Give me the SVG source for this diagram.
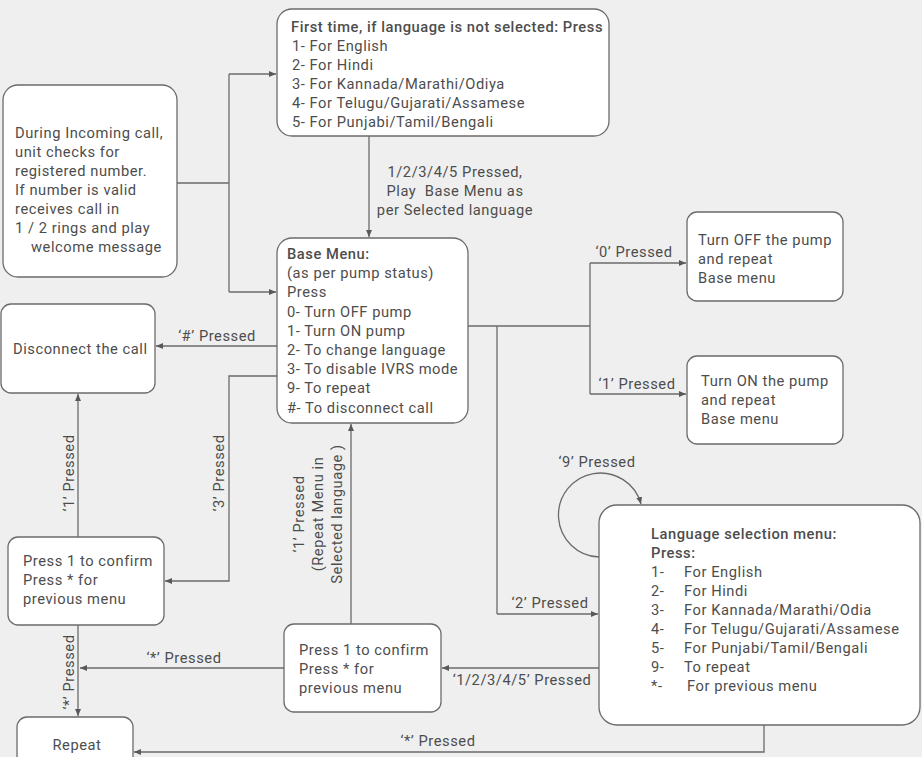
<svg xmlns="http://www.w3.org/2000/svg" width="922" height="757" viewBox="0 0 922 757">
<defs>
<marker id="ah" markerWidth="8" markerHeight="8" refX="7" refY="4" orient="auto" markerUnits="userSpaceOnUse">
<path d="M0,1 L7,4 L0,7 Z" fill="#595959"/>
</marker>
<style>
text{font-family:Roboto,"Liberation Sans",sans-serif;font-size:14.7px;letter-spacing:0.55px;fill:#4d4d4d}
.b{font-weight:500}
.m{text-anchor:middle}
.box{fill:#fff;stroke:#6b6b6b;stroke-width:1.3}
.c{fill:none;stroke:#6b6b6b;stroke-width:1.3}
.a{marker-end:url(#ah)}
</style>
</defs>
<rect width="922" height="757" fill="#efefef"/>
<g id="connectors">
<path class="c" d="M177,183 H229 M229,74 V292"/>
<path class="c a" d="M229,74 H276"/>
<path class="c a" d="M229,292 H276"/>
<path class="c a" d="M369,136 V237"/>
<path class="c" d="M468,326 H590 M590,263 V394 M497,326 V614"/>
<path class="c a" d="M590,263 H686"/>
<path class="c a" d="M590,394 H686"/>
<path class="c a" d="M497,614 H598"/>
<path class="c a" d="M277,346 H156"/>
<path class="c a" d="M277,376 H229 V581 H165"/>
<path class="c a" d="M78,537 V394"/>
<path class="c a" d="M78,625 V716"/>
<path class="c a" d="M284,668 H80"/>
<path class="c a" d="M351,624 V424"/>
<path class="c a" d="M599,668 H442"/>
<path class="c a" d="M764,725 V752 H134"/>
<path class="c a" d="M599,557 A42,42 0 1 1 641,504"/>
<text class="m" x="455" y="177">1/2/3/4/5 Pressed,</text>
<text class="m" x="455" y="196" style="white-space:pre">Play  Base Menu as</text>
<text class="m" x="455" y="215">per Selected language</text>
<text class="m" x="634" y="257">‘0’ Pressed</text>
<text class="m" x="637" y="389">‘1’ Pressed</text>
<text class="m" x="217" y="341">‘#’ Pressed</text>
<text class="m" x="550" y="608">‘2’ Pressed</text>
<text class="m" x="522" y="685">‘1/2/3/4/5’ Pressed</text>
<text class="m" x="184" y="663">‘*’ Pressed</text>
<text class="m" x="438" y="746">‘*’ Pressed</text>
<text class="m" x="597" y="467">‘9’ Pressed</text>
<text class="m" transform="translate(74,473) rotate(-90)">‘1’ Pressed</text>
<text class="m" transform="translate(224,473) rotate(-90)">‘3’ Pressed</text>
<text class="m" transform="translate(74,672) rotate(-90)">‘*’ Pressed</text>
<text class="m" transform="translate(304,514) rotate(-90)">‘1’ Pressed</text>
<text class="m" transform="translate(323,514) rotate(-90)">(Repeat Menu in</text>
<text class="m" transform="translate(342,514) rotate(-90)">Selected language )</text>
</g>
<g id="incoming">
<rect class="box" x="3" y="85" width="174" height="192" rx="15"/>
<text x="15" y="138">During Incoming call,</text>
<text x="15" y="157">unit checks for</text>
<text x="15" y="176">registered number.</text>
<text x="15" y="195">If number is valid</text>
<text x="15" y="214">receives call in</text>
<text x="15" y="233">1 / 2 rings and play</text>
<text x="31" y="252">welcome message</text>
</g>
<g id="first-time">
<rect class="box" x="277" y="9" width="332" height="127" rx="15"/>
<text class="b" x="291" y="32">First time, if language is not selected: Press</text>
<text x="292" y="51">1- For English</text>
<text x="292" y="70">2- For Hindi</text>
<text x="292" y="89">3- For Kannada/Marathi/Odiya</text>
<text x="292" y="108">4- For Telugu/Gujarati/Assamese</text>
<text x="292" y="127">5- For Punjabi/Tamil/Bengali</text>
</g>
<g id="base-menu">
<rect class="box" x="277" y="238" width="191" height="185" rx="15"/>
<text class="b" x="287" y="259">Base Menu:</text>
<text x="287" y="278">(as per pump status)</text>
<text x="287" y="297">Press</text>
<text x="287" y="317">0- Turn OFF pump</text>
<text x="287" y="336">1- Turn ON pump</text>
<text x="287" y="355">2- To change language</text>
<text x="287" y="374">3- To disable IVRS mode</text>
<text x="287" y="393">9- To repeat</text>
<text x="287" y="413">#- To disconnect call</text>
</g>
<g id="turn-off">
<rect class="box" x="687" y="212" width="156" height="89" rx="10"/>
<text x="698" y="245">Turn OFF the pump</text>
<text x="698" y="264">and repeat</text>
<text x="698" y="283">Base menu</text>
</g>
<g id="turn-on">
<rect class="box" x="687" y="356" width="156" height="88" rx="10"/>
<text x="701" y="386">Turn ON the pump</text>
<text x="701" y="405">and repeat</text>
<text x="701" y="424">Base menu</text>
</g>
<g id="disconnect">
<rect class="box" x="1" y="304" width="154" height="89" rx="10"/>
<text x="13" y="354">Disconnect the call</text>
</g>
<g id="confirm-left">
<rect class="box" x="8" y="537" width="156" height="88" rx="10"/>
<text x="23" y="566">Press 1 to confirm</text>
<text x="23" y="585">Press * for</text>
<text x="23" y="604">previous menu</text>
</g>
<g id="confirm-mid">
<rect class="box" x="284" y="624" width="157" height="88" rx="10"/>
<text x="299" y="655">Press 1 to confirm</text>
<text x="299" y="674">Press * for</text>
<text x="299" y="693">previous menu</text>
</g>
<g id="repeat">
<rect class="box" x="17" y="717" width="116" height="60" rx="10"/>
<text class="m" x="77" y="750">Repeat</text>
</g>
<g id="language-menu">
<rect class="box" x="599" y="505" width="321" height="220" rx="18"/>
<text class="b" x="651" y="539">Language selection menu:</text>
<text class="b" x="651" y="558">Press:</text>
<text x="651" y="577">1-</text><text x="684" y="577">For English</text>
<text x="651" y="596">2-</text><text x="684" y="596">For Hindi</text>
<text x="651" y="615">3-</text><text x="684" y="615">For Kannada/Marathi/Odia</text>
<text x="651" y="634">4-</text><text x="684" y="634">For Telugu/Gujarati/Assamese</text>
<text x="651" y="653">5-</text><text x="684" y="653">For Punjabi/Tamil/Bengali</text>
<text x="651" y="672">9-</text><text x="684" y="672">To repeat</text>
<text x="651" y="691">*-</text><text x="687" y="691">For previous menu</text>
</g>
</svg>
